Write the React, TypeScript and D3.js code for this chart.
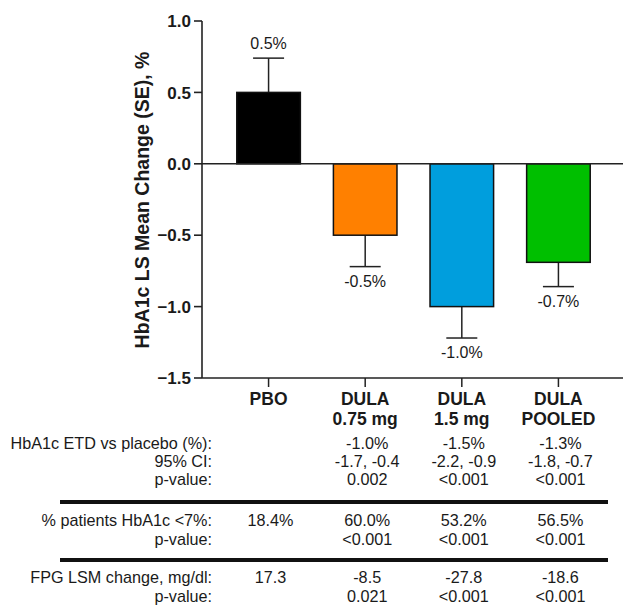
import React from "react";
import * as d3 from "d3";

const categories = ["PBO", "DULA 0.75", "DULA 1.5", "DULA POOLED"];
const catLine1 = ["PBO", "DULA", "DULA", "DULA"];
const catLine2 = ["", "0.75 mg", "1.5 mg", "POOLED"];
const values = [0.5, -0.5, -1.0, -0.69];
const seValues = [0.24, 0.22, 0.22, 0.17];
const valueLabels = ["0.5%", "-0.5%", "-1.0%", "-0.7%"];
const barColors = ["#000000", "#FF8000", "#009EDD", "#00BF00"];
const yTicks = [1.0, 0.5, 0.0, -0.5, -1.0, -1.5];

const tableLabels = [
  ["HbA1c ETD vs placebo (%):", "95% CI:", "p-value:"],
  ["% patients HbA1c <7%:", "p-value:"],
  ["FPG LSM change, mg/dl:", "p-value:"],
];
const tableValues = [
  [
    ["", "-1.0%", "-1.5%", "-1.3%"],
    ["", "-1.7, -0.4", "-2.2, -0.9", "-1.8, -0.7"],
    ["", "0.002", "<0.001", "<0.001"],
  ],
  [
    ["18.4%", "60.0%", "53.2%", "56.5%"],
    ["", "<0.001", "<0.001", "<0.001"],
  ],
  [
    ["17.3", "-8.5", "-27.8", "-18.6"],
    ["", "0.021", "<0.001", "<0.001"],
  ],
];

const W = 623;
const H = 608;
const FONT = "'Liberation Sans', Arial, Helvetica, sans-serif";

export default function App() {
  const axisX = 202;
  const y = d3.scaleLinear().domain([-1.5, 1.0]).range([378, 21]);
  const x = d3
    .scaleBand<string>()
    .domain(categories)
    .range([axisX, 625])
    .paddingInner(0.342)
    .paddingOuter(0.36);
  const bw = x.bandwidth();
  const cx = (c: string) => (x(c) as number) + bw / 2;
  const capHalf = 15.5;
  const ink = "#1a1a1a";

  const blockBaselines = [
    [449, 467, 485],
    [526, 545],
    [583, 602],
  ];
  const separators = [502, 560];

  return (
    <svg
      width={W}
      height={H}
      style={{ position: "absolute", left: 0, top: 0, background: "#fff" }}
      fontFamily={FONT}
    >
      <rect x={0} y={0} width={W} height={H} fill="#fff" />
      {/* Y axis title */}
      <text
        transform={`translate(149, 200) rotate(-90)`}
        textAnchor="middle"
        fontWeight="bold"
        fontSize={19.5}
        fill={ink}
      >
        HbA1c LS Mean Change (SE), %
      </text>

      {/* Y axis */}
      <line x1={axisX} x2={axisX} y1={y(1.0)} y2={y(-1.5)} stroke="#222" strokeWidth={1.6} />
      {yTicks.map((t) => (
        <g key={t}>
          <line x1={axisX - 8} x2={axisX} y1={y(t)} y2={y(t)} stroke="#222" strokeWidth={1.6} />
          <text
            x={axisX - 11}
            y={y(t)}
            dy="0.36em"
            textAnchor="end"
            fontWeight="bold"
            fontSize={17}
            fill={ink}
          >
            {d3.format(".1f")(t)}
          </text>
        </g>
      ))}

      {/* bars */}
      {categories.map((c, i) => {
        const v = values[i];
        const y0 = y(0);
        const y1 = y(v);
        const top = Math.min(y0, y1);
        const h = Math.abs(y1 - y0);
        const errEnd = v >= 0 ? y(v + seValues[i]) : y(v - seValues[i]);
        const labelY = v >= 0 ? errEnd - 9 : errEnd + 20;
        return (
          <g key={c}>
            <line x1={cx(c)} x2={cx(c)} y1={y1} y2={errEnd} stroke="#222" strokeWidth={1.5} />
            <line
              x1={cx(c) - capHalf}
              x2={cx(c) + capHalf}
              y1={errEnd}
              y2={errEnd}
              stroke="#222"
              strokeWidth={1.5}
            />
            <rect
              x={x(c)}
              y={top}
              width={bw}
              height={h}
              fill={barColors[i]}
              stroke="#111"
              strokeWidth={1.5}
            />
            <text x={cx(c)} y={labelY} textAnchor="middle" fontSize={16} fill={ink}>
              {valueLabels[i]}
            </text>
          </g>
        );
      })}

      {/* zero line */}
      <line x1={axisX} x2={W} y1={y(0)} y2={y(0)} stroke="#222" strokeWidth={1.6} />
      {/* x axis */}
      <line x1={axisX} x2={W} y1={y(-1.5)} y2={y(-1.5)} stroke="#222" strokeWidth={1.6} />
      {categories.map((c, i) => (
        <g key={"cat" + c}>
          <line x1={cx(c)} x2={cx(c)} y1={y(-1.5)} y2={y(-1.5) + 9} stroke="#222" strokeWidth={1.5} />
          <text x={cx(c)} y={405} textAnchor="middle" fontWeight="bold" fontSize={17.5} fill={ink}>
            {catLine1[i]}
          </text>
          {catLine2[i] && (
            <text x={cx(c)} y={425} textAnchor="middle" fontWeight="bold" fontSize={17.5} fill={ink}>
              {catLine2[i]}
            </text>
          )}
        </g>
      ))}

      {/* table */}
      {tableLabels.map((block, bi) =>
        block.map((lab, ri) => (
          <g key={`r${bi}-${ri}`}>
            <text
              x={212}
              y={blockBaselines[bi][ri]}
              textAnchor="end"
              fontSize={16.2}
              fill={ink}
            >
              {lab}
            </text>
            {tableValues[bi][ri].map((v, ci) =>
              v ? (
                <text
                  key={ci}
                  x={cx(categories[ci]) + 2}
                  y={blockBaselines[bi][ri]}
                  textAnchor="middle"
                  fontSize={16.2}
                  fill={ink}
                >
                  {v}
                </text>
              ) : null
            )}
          </g>
        ))
      )}
      {separators.map((sy) => (
        <line key={sy} x1={60} x2={608} y1={sy} y2={sy} stroke="#111" strokeWidth={4} />
      ))}
    </svg>
  );
}
